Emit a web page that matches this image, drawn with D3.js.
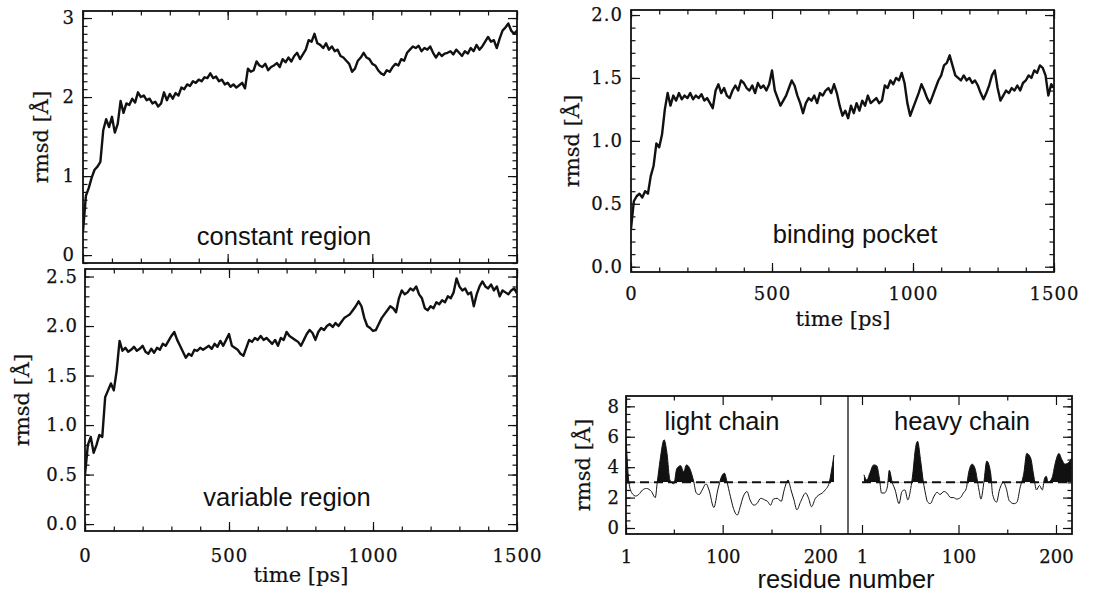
<!DOCTYPE html>
<html>
<head>
<meta charset="utf-8">
<script src="https://cdn.jsdelivr.net/npm/d3@7"></script>
<style>
  body { margin: 0; background: #fff; }
  svg { display: block; }
  .tick text { font-family: "DejaVu Serif", serif; font-size: 18px; fill: #111; stroke: #111; stroke-width: 0.25; letter-spacing: 1px; }
  .res .tick text { letter-spacing: 0; }
  .domain { display: none; }
  .tick line { stroke: #111; stroke-width: 1.2; }
  .lab { font-family: "Liberation Sans", Arial, sans-serif; font-size: 25.5px; fill: #111; }
  .ttl { font-family: "DejaVu Serif", serif; font-size: 21px; fill: #111; stroke: #111; stroke-width: 0.2; }
</style>
</head>
<body>
<svg width="1094" height="598"></svg>
<script>
// ---- data ----
// time axis, every 10 ps
const times = d3.range(0, 1501, 10);

const constantRmsd = [
  0.30,0.75,0.85,0.98,1.08,1.12,1.18,1.58,1.72,1.62,
  1.75,1.55,1.66,1.95,1.80,1.92,1.90,1.98,1.93,2.06,
  2.00,2.02,1.96,1.98,1.92,1.94,1.88,1.92,2.06,1.96,
  2.04,1.98,2.05,2.02,2.12,2.10,2.16,2.14,2.20,2.18,
  2.22,2.20,2.25,2.24,2.30,2.24,2.26,2.20,2.22,2.16,
  2.18,2.13,2.16,2.12,2.15,2.18,2.11,2.36,2.32,2.34,
  2.45,2.40,2.38,2.42,2.34,2.38,2.40,2.43,2.38,2.48,
  2.44,2.50,2.45,2.52,2.56,2.48,2.54,2.60,2.72,2.70,
  2.80,2.68,2.66,2.62,2.68,2.60,2.64,2.58,2.60,2.52,
  2.50,2.46,2.42,2.32,2.36,2.46,2.50,2.56,2.50,2.48,
  2.42,2.40,2.34,2.30,2.28,2.34,2.32,2.38,2.42,2.40,
  2.48,2.46,2.56,2.60,2.64,2.62,2.65,2.58,2.62,2.60,
  2.64,2.56,2.50,2.56,2.52,2.55,2.56,2.58,2.54,2.60,
  2.56,2.52,2.58,2.55,2.62,2.58,2.66,2.60,2.64,2.70,
  2.76,2.70,2.72,2.62,2.74,2.84,2.88,2.93,2.84,2.80,
  2.84
];

const variableRmsd = [
  0.50,0.80,0.88,0.72,0.80,0.90,0.88,1.28,1.35,1.42,
  1.35,1.55,1.85,1.75,1.78,1.74,1.76,1.79,1.75,1.77,
  1.80,1.74,1.72,1.77,1.73,1.78,1.76,1.82,1.80,1.85,
  1.90,1.94,1.86,1.80,1.74,1.68,1.72,1.70,1.76,1.75,
  1.78,1.76,1.78,1.80,1.77,1.82,1.79,1.85,1.80,1.86,
  1.92,1.80,1.78,1.76,1.72,1.70,1.78,1.86,1.84,1.88,
  1.86,1.90,1.86,1.88,1.85,1.82,1.86,1.80,1.88,1.86,
  1.94,1.90,1.88,1.86,1.84,1.80,1.86,1.92,1.96,1.93,
  1.86,1.94,1.98,1.96,2.00,2.02,1.99,2.03,2.00,2.04,
  2.08,2.10,2.12,2.16,2.20,2.25,2.20,2.08,2.00,1.98,
  1.95,1.96,2.02,2.08,2.12,2.16,2.20,2.18,2.14,2.28,
  2.36,2.32,2.34,2.38,2.36,2.40,2.32,2.28,2.18,2.16,
  2.20,2.18,2.24,2.22,2.26,2.24,2.30,2.28,2.34,2.48,
  2.40,2.36,2.38,2.32,2.34,2.20,2.32,2.40,2.45,2.40,
  2.38,2.42,2.36,2.40,2.30,2.36,2.34,2.32,2.36,2.38,
  2.33
];

const pocketRmsd = [
  0.30,0.52,0.56,0.58,0.55,0.60,0.58,0.72,0.80,0.98,
  0.95,1.05,1.25,1.38,1.28,1.36,1.32,1.38,1.33,1.36,
  1.34,1.38,1.33,1.36,1.34,1.37,1.32,1.34,1.30,1.26,
  1.40,1.45,1.38,1.42,1.36,1.34,1.40,1.44,1.40,1.48,
  1.46,1.42,1.40,1.44,1.38,1.46,1.42,1.44,1.40,1.45,
  1.56,1.40,1.34,1.28,1.32,1.36,1.42,1.48,1.44,1.36,
  1.30,1.22,1.30,1.34,1.32,1.36,1.30,1.38,1.36,1.40,
  1.42,1.38,1.45,1.38,1.28,1.20,1.24,1.18,1.28,1.22,
  1.30,1.24,1.32,1.28,1.36,1.30,1.32,1.34,1.30,1.32,
  1.44,1.42,1.48,1.45,1.50,1.48,1.54,1.46,1.30,1.20,
  1.26,1.32,1.38,1.45,1.40,1.34,1.30,1.36,1.42,1.48,
  1.52,1.60,1.62,1.68,1.60,1.52,1.50,1.48,1.52,1.48,
  1.50,1.46,1.48,1.44,1.38,1.33,1.38,1.44,1.52,1.56,
  1.42,1.32,1.36,1.40,1.38,1.42,1.40,1.44,1.40,1.46,
  1.48,1.52,1.50,1.56,1.54,1.60,1.58,1.52,1.36,1.45,
  1.42
];

// per-residue rmsd
const lightRes = [1,4,7,11,14,18,22,27,31,33,36,40,43,46,50,53,57,60,63,67,
  70,73,76,79,83,86,91,95,99,102,104,108,111,115,118,121,125,128,132,135,
  139,143,146,149,152,156,160,163,167,170,173,176,180,185,188,191,195,198,202,205,
  209,211,214];
const lightRmsd = [6.0,3.0,2.3,2.1,2.2,2.5,2.6,2.4,2.0,3.0,4.5,5.8,4.9,3.15,2.9,3.9,4.1,3.7,4.15,3.8,
  3.15,2.3,2.2,2.5,2.9,2.5,1.35,2.5,3.4,3.6,3.15,2.05,1.3,0.85,1.4,2.05,2.4,1.85,1.5,1.6,
  1.95,1.85,1.75,1.5,1.9,1.95,1.75,2.5,3.15,2.5,1.85,1.2,1.75,2.3,1.95,1.4,1.95,2.15,2.3,2.5,
  2.95,3.6,4.8];
const heavyRes = [3,6,9,13,16,19,21,24,27,29,32,35,39,42,45,48,51,53,56,58,
  61,64,66,68,71,75,78,81,85,88,92,95,98,102,105,108,110,114,117,121,
  123,126,129,133,135,139,142,146,149,152,157,160,163,167,170,174,177,180,183,186,
  188,190,192,196,199,203,206,209,213,216];
const heavyRmsd = [3.5,3.15,3.6,4.15,4.1,3.2,2.3,2.3,2.7,3.8,3.0,2.5,1.6,2.4,2.5,1.85,2.6,3.5,5.3,5.7,
  4.5,3.0,2.3,1.75,1.6,2.1,2.35,2.2,2.4,2.3,2.0,2.0,1.9,2.0,2.3,2.6,3.5,4.2,3.9,2.5,
  1.9,3.0,4.4,3.6,2.2,1.7,2.5,3.0,2.6,1.8,1.6,1.7,2.6,3.6,4.9,4.6,3.5,2.5,2.8,2.5,
  3.2,3.4,3.0,3.3,4.2,4.9,4.5,4.2,4.3,4.6];

const threshold = 3;

// tick values
const timeTicks = [0, 500, 1000, 1500];
const timeMinor = d3.range(0, 1501, 100);
const resTicks = [1, 100, 200];
const resMinor = [50, 150];

// ---- drawing ----
const svg = d3.select('svg');
const fmt0 = d3.format('d'), fmt1 = d3.format('.1f');

function box(x, y, o) {
  const g = svg.append('g').attr('class', o.cls || '');
  const [x0, x1] = [o.left, o.right], [y1, y0] = [o.bottom, o.top];
  // major / minor ticks, inward, on all four sides
  const xs = o.xScales || [x];
  xs.forEach(function (xx) {
    const maj = o.xMajor, mnr = o.xMinor;
    g.append('g').attr('transform', 'translate(0,' + y1 + ')')
      .call(d3.axisBottom(xx).tickValues(maj).tickSize(-9).tickPadding(o.xPad || 17)
        .tickFormat(o.xLabels ? fmt0 : ''));
    g.append('g').attr('transform', 'translate(0,' + y1 + ')')
      .call(d3.axisBottom(xx).tickValues(mnr).tickSize(-4.5).tickFormat(''));
    g.append('g').attr('transform', 'translate(0,' + y0 + ')')
      .call(d3.axisTop(xx).tickValues(maj).tickSize(-9).tickFormat(''));
    g.append('g').attr('transform', 'translate(0,' + y0 + ')')
      .call(d3.axisTop(xx).tickValues(mnr).tickSize(-4.5).tickFormat(''));
  });
  g.append('g').attr('transform', 'translate(' + x0 + ',0)')
    .call(d3.axisLeft(y).tickValues(o.yMajor).tickSize(-9).tickPadding(o.yPad || 8).tickFormat(o.yFmt));
  g.append('g').attr('transform', 'translate(' + x0 + ',0)')
    .call(d3.axisLeft(y).tickValues(o.yMinor).tickSize(-4.5).tickFormat(''));
  g.append('g').attr('transform', 'translate(' + x1 + ',0)')
    .call(d3.axisRight(y).tickValues(o.yMajor).tickSize(-9).tickFormat(''));
  g.append('g').attr('transform', 'translate(' + x1 + ',0)')
    .call(d3.axisRight(y).tickValues(o.yMinor).tickSize(-4.5).tickFormat(''));
  g.append('rect').attr('x', x0).attr('y', y0).attr('width', x1 - x0).attr('height', y1 - y0)
    .attr('fill', 'none').attr('stroke', '#111').attr('stroke-width', 1.8);
  // y title
  svg.append('text').attr('class', 'ttl').attr('text-anchor', 'middle')
    .attr('transform', 'translate(' + o.titleX + ',' + (y0 + y1) / 2 + ') rotate(-90)')
    .attr('dy', '0.35em').text('rmsd [Å]');
  return g;
}

function series(x, y, vals, o, id) {
  svg.append('clipPath').attr('id', id).append('rect')
    .attr('x', o.left).attr('y', o.top).attr('width', o.right - o.left).attr('height', o.bottom - o.top);
  svg.append('path').datum(vals)
    .attr('clip-path', 'url(#' + id + ')')
    .attr('fill', 'none').attr('stroke', '#111').attr('stroke-width', 2.4)
    .attr('stroke-linejoin', 'round')
    .attr('d', d3.line().x((d, i) => x(times[i])).y(d => y(d)));
}

// panel 1: constant region
const p1 = { left: 83, right: 517, top: 11, bottom: 263 };
const x1 = d3.scaleLinear().domain([0, 1500]).range([p1.left, p1.right]);
const y1 = d3.scaleLinear().domain([-0.1, 3.089]).range([p1.bottom, p1.top]);
box(x1, y1, Object.assign({ xMajor: timeTicks, xMinor: timeMinor, xLabels: false,
  yMajor: [0, 1, 2, 3], yMinor: d3.range(-0.1, 3.05, 0.1), yFmt: fmt0, titleX: 41 }, p1));
series(x1, y1, constantRmsd, p1, 'c1');
svg.append('text').attr('class', 'lab').attr('text-anchor', 'middle')
  .attr('x', 284).attr('y', 245).text('constant region');

// panel 2: variable region
const p2 = { left: 85, right: 517, top: 269, bottom: 531 };
const x2 = d3.scaleLinear().domain([0, 1500]).range([p2.left, p2.right]);
const y2 = d3.scaleLinear().domain([-0.07, 2.576]).range([p2.bottom, p2.top]);
box(x2, y2, Object.assign({ xMajor: timeTicks, xMinor: timeMinor, xLabels: true, xPad: 18,
  yMajor: [0, 0.5, 1, 1.5, 2, 2.5], yMinor: d3.range(0, 2.55, 0.1), yFmt: fmt1, yPad: 7, titleX: 22 }, p2));
series(x2, y2, variableRmsd, p2, 'c2');
svg.append('text').attr('class', 'lab').attr('text-anchor', 'middle')
  .attr('x', 287).attr('y', 506).text('variable region');
svg.append('text').attr('class', 'ttl').attr('text-anchor', 'middle')
  .attr('x', 301).attr('y', 582).text('time [ps]');

// panel 3: binding pocket
const p3 = { left: 631, right: 1054, top: 10, bottom: 272 };
const x3 = d3.scaleLinear().domain([0, 1500]).range([p3.left, p3.right]);
const y3 = d3.scaleLinear().domain([-0.042, 2.04]).range([p3.bottom, p3.top]);
box(x3, y3, Object.assign({ xMajor: timeTicks, xMinor: timeMinor, xLabels: true, xPad: 15,
  yMajor: [0, 0.5, 1, 1.5, 2], yMinor: d3.range(0, 2.05, 0.1), yFmt: fmt1, titleX: 572 }, p3));
series(x3, y3, pocketRmsd, p3, 'c3');
svg.append('text').attr('class', 'lab').attr('text-anchor', 'middle')
  .attr('x', 855).attr('y', 243).text('binding pocket');
svg.append('text').attr('class', 'ttl').attr('text-anchor', 'middle')
  .attr('x', 843).attr('y', 326).text('time [ps]');

// panel 4: per residue rmsd
const p4 = { left: 626, right: 1072, top: 396, bottom: 534 };
const xL = d3.scaleLinear().domain([1, 200]).range([626, 820.3]);
const xH = d3.scaleLinear().domain([1, 200]).range([862, 1056]);
const y4 = d3.scaleLinear().domain([-0.395, 8.68]).range([p4.bottom, p4.top]);
box(xL, y4, Object.assign({ cls: 'res', xScales: [xL, xH], xMajor: resTicks, xMinor: resMinor, xLabels: true, xPad: 16,
  yMajor: [0, 2, 4, 6, 8], yMinor: d3.range(0, 8.6, 0.5), yFmt: fmt0, yPad: 7, titleX: 583 }, p4));

svg.append('clipPath').attr('id', 'above').append('rect')
  .attr('x', p4.left).attr('y', p4.top).attr('width', p4.right - p4.left).attr('height', y4(threshold) - p4.top);
svg.append('clipPath').attr('id', 'c4').append('rect')
  .attr('x', p4.left).attr('y', p4.top).attr('width', p4.right - p4.left).attr('height', p4.bottom - p4.top);

[[xL, lightRes, lightRmsd, 214], [xH, heavyRes, heavyRmsd, 216]].forEach(function (c) {
  const xx = c[0], pts = c[1].map((r, i) => [r, c[2][i]]);
  svg.append('line')
    .attr('x1', xx(1)).attr('x2', xx(c[3])).attr('y1', y4(threshold)).attr('y2', y4(threshold))
    .attr('stroke', '#111').attr('stroke-width', 2).attr('stroke-dasharray', '9,5');
  svg.append('path').datum(pts).attr('clip-path', 'url(#above)')
    .attr('fill', '#111')
    .attr('d', d3.area().curve(d3.curveMonotoneX).x(d => xx(d[0])).y0(y4(threshold)).y1(d => y4(d[1])));
  svg.append('path').datum(pts).attr('clip-path', 'url(#c4)')
    .attr('fill', 'none').attr('stroke', '#111').attr('stroke-width', 1)
    .attr('d', d3.line().curve(d3.curveMonotoneX).x(d => xx(d[0])).y(d => y4(d[1])));
});
svg.append('line').attr('x1', 848).attr('x2', 848).attr('y1', p4.top).attr('y2', p4.bottom)
  .attr('stroke', '#111').attr('stroke-width', 1.3);
svg.append('text').attr('class', 'lab').attr('text-anchor', 'middle')
  .attr('x', 722).attr('y', 430).text('light chain');
svg.append('text').attr('class', 'lab').attr('text-anchor', 'middle')
  .attr('x', 962).attr('y', 430).text('heavy chain');
svg.append('text').attr('class', 'lab').attr('text-anchor', 'middle')
  .attr('x', 846).attr('y', 588).text('residue number');
</script>
</body>
</html>
